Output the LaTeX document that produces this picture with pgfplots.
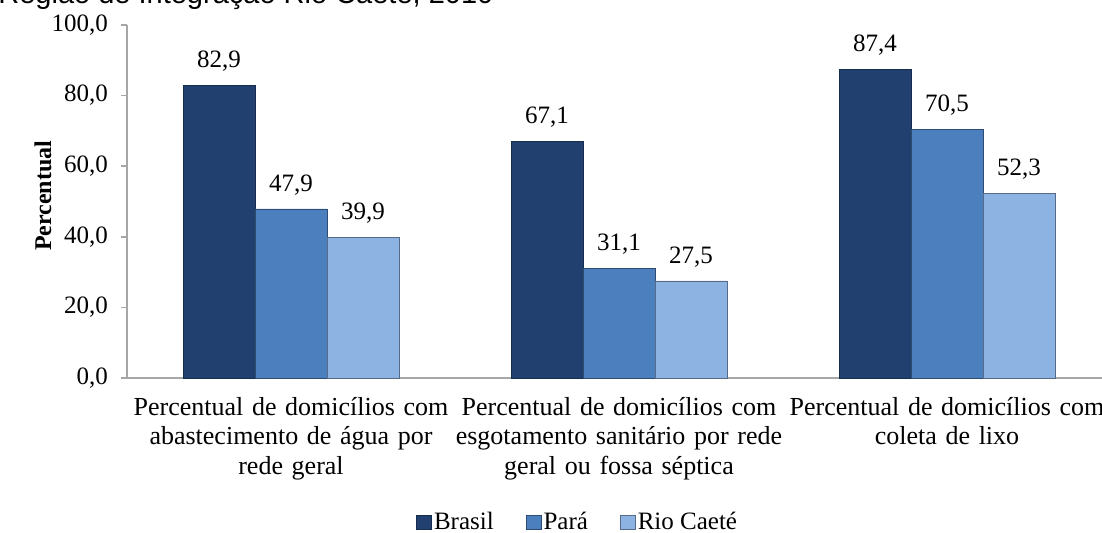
\documentclass[border=0pt]{standalone}
\usepackage{fontspec}
\setmainfont{Liberation Serif}
\newfontfamily\titlefont{Liberation Sans}
\usepackage{pgfplots}
\pgfplotsset{compat=1.18}

\definecolor{cBrasil}{HTML}{21406F}
\definecolor{cPara}{HTML}{4C7FBD}
\definecolor{cRio}{HTML}{8DB3E2}
\definecolor{axgray}{HTML}{A6A6A6}

\newcommand\lbl{\fontsize{12.5bp}{14.75bp}\selectfont}
\newcommand\cat{\fontsize{13bp}{14.75bp}\selectfont}

\begin{document}
\begin{tikzpicture}
\useasboundingbox (0,0) rectangle (551bp,266.5bp);
\clip (0,0) rectangle (551bp,266.5bp);

% title line, cut off at the top in the source
\node[anchor=base west, inner sep=0pt, font=\titlefont\fontsize{14.5bp}{17bp}\selectfont]
  at (-1bp,264.5bp) {Região de Integração Rio Caeté, 2010};

\begin{axis}[
    at={(63.5bp,77.5bp)}, anchor=south west,
    scale only axis,
    width=492bp, height=176.5bp,
    xmin=-0.5, xmax=2.5,
    ymin=0, ymax=100,
    ytick={0,20,...,100},
    xtick={0,1,2},
    xticklabels={{Percentual de domicílios com\\abastecimento de água por\\rede geral},
                 {Percentual de domicílios com\\esgotamento sanitário por rede\\geral ou fossa séptica},
                 {Percentual de domicílios com\\coleta de lixo}},
    xticklabel style={font=\cat, align=center, text width=180bp, yshift=-3bp},
    yticklabel style={font=\lbl, xshift=-3bp},
    major x tick style={draw=none},
    extra x ticks={0.5,1.5},
    extra x tick labels={},
    extra x tick style={tick style={draw=axgray, thick}, major tick length=3.5bp},
    tick align=outside,
    major tick length=3bp,
    y tick style={draw=axgray, thick},
    axis x line*=bottom, axis y line*=left,
    axis line style={draw=axgray, thick, -},
    /pgf/number format/.cd, fixed, fixed zerofill, precision=1, use comma, assume math mode=true,
    /pgfplots/.cd,
    ylabel={\bfseries Percentual},
    every axis y label/.style={at={(axis description cs:-0.0854,0.516)}, rotate=90, anchor=center, font=\fontsize{12bp}{14bp}\selectfont},
    ybar=0pt, bar width=36bp,
    nodes near coords,
    every node near coord/.append style={font=\lbl, yshift=3.5bp},
    legend columns=3,
    legend style={at={(axis description cs:0.458,-0.41)}, anchor=center, draw=none, fill=none,
                  font=\lbl, inner sep=0pt,
                  nodes={inner sep=1bp},
                  /tikz/every odd column/.append style={column sep=0bp},
                  /tikz/every even column/.append style={column sep=15bp}},
    legend image code/.code={\fill[#1] (0bp,-3.5bp) rectangle (7.5bp,3.5bp);},
    clip=false,
]
\addplot[fill=cBrasil, draw=cBrasil!70!black] coordinates {(0,82.9) (1,67.1) (2,87.4)};
\addplot[fill=cPara, draw=cPara!60!black] coordinates {(0,47.9) (1,31.1) (2,70.5)};
\addplot[fill=cRio, draw=cRio!60!black] coordinates {(0,39.9) (1,27.5) (2,52.3)};
\legend{Brasil, Pará, Rio Caeté}
\end{axis}
\end{tikzpicture}
\end{document}
